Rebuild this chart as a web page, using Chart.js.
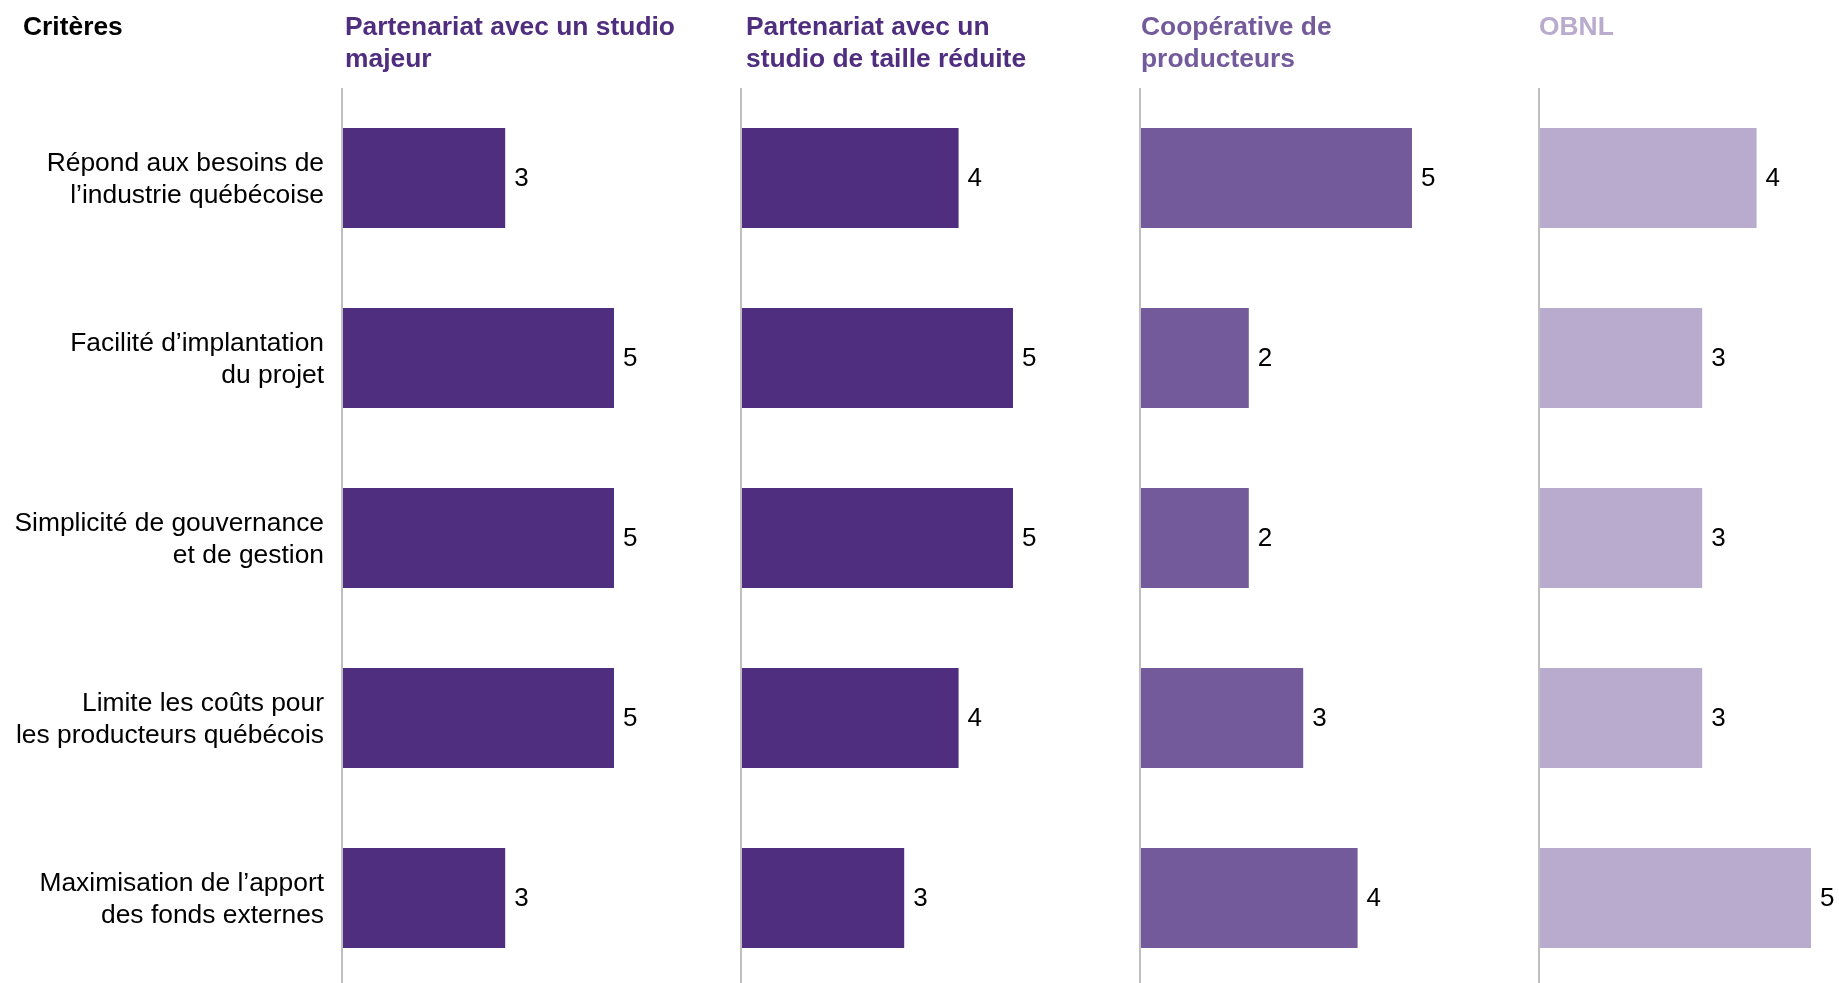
<!DOCTYPE html>
<html>
<head>
<meta charset="utf-8">
<script src="https://cdn.jsdelivr.net/npm/chart.js@4/dist/chart.umd.min.js"></script>
<style>
  html, body { margin: 0; padding: 0; background: #fff; overflow: hidden; }
  #wrap { position: absolute; left: 0; top: 0; width: 1839px; height: 988px; }
</style>
</head>
<body>
<div id="wrap"><canvas id="c" width="1839" height="988"></canvas></div>
<script>
// Critères évalués (axe des catégories)
const criteres = [
  ["Répond aux besoins de", "l’industrie québécoise"],
  ["Facilité d’implantation", "du projet"],
  ["Simplicité de gouvernance", "et de gestion"],
  ["Limite les coûts pour", "les producteurs québécois"],
  ["Maximisation de l’apport", "des fonds externes"]
];
const enTeteCriteres = "Critères";

// Options comparées (titres des panneaux)
const optionsTitres = [
  ["Partenariat avec un studio", "majeur"],
  ["Partenariat avec un", "studio de taille réduite"],
  ["Coopérative de", "producteurs"],
  ["OBNL"]
];

// Notes sur 5 pour chaque option
const studioMajeur = [3, 5, 5, 5, 3];
const studioReduit = [4, 5, 5, 4, 3];
const cooperative  = [5, 2, 2, 3, 4];
const obnl         = [4, 3, 3, 3, 5];
const series = [studioMajeur, studioReduit, cooperative, obnl];

const couleurs = ["#4F2D7F", "#4F2D7F", "#735A9B", "#B9ABCD"];
// Étendue de chaque panneau (en points de note)
const etendues = [7.335, 7.335, 7.335, 5.515];
// Retrait des titres par rapport à l'axe de chaque panneau
const retraitsTitres = [3, 5, 1, 0];

const police = '"Liberation Sans", Arial, Helvetica, sans-serif';

function axePanneau(max) {
  return {
    type: 'linear',
    position: 'bottom',
    min: 0,
    max: max,
    stack: 'panneaux',
    stackWeight: max,
    grid: { drawTicks: false, color: '#BFBFBF', lineWidth: 2 },
    border: { display: false },
    ticks: { display: false },
    afterBuildTicks: (s) => { s.ticks = [{ value: 0 }]; }
  };
}

const scales = {
  y: {
    type: 'category',
    position: 'left',
    grid: { display: false, drawTicks: false },
    border: { display: false },
    ticks: {
      color: '#000',
      padding: 18,
      labelOffset: 2,
      font: { family: police, size: 26.4, lineHeight: '32px' }
    },
    afterFit: (s) => {
      s.width = 342;
      s.paddingTop = 0;
      s.paddingBottom = 0;
    }
  }
};
etendues.forEach((m, i) => { scales['x' + i] = axePanneau(m); });

// Valeurs au bout des barres et titres des colonnes
const etiquettes = {
  id: 'etiquettes',
  afterDatasetsDraw(chart) {
    const ctx = chart.ctx;
    ctx.save();
    ctx.font = '26px ' + police;
    ctx.fillStyle = '#000';
    ctx.textAlign = 'left';
    ctx.textBaseline = 'middle';
    chart.data.datasets.forEach((ds, i) => {
      chart.getDatasetMeta(i).data.forEach((bar, j) => {
        ctx.fillText(String(ds.data[j]), bar.x + 9, bar.y + 1);
      });
    });

    ctx.font = 'bold 26.4px ' + police;
    ctx.textBaseline = 'alphabetic';
    ctx.fillStyle = '#000';
    ctx.fillText(enTeteCriteres, 23, 35);
    optionsTitres.forEach((lignes, i) => {
      const x = chart.scales['x' + i].getPixelForValue(0) + retraitsTitres[i];
      ctx.fillStyle = couleurs[i];
      lignes.forEach((l, k) => ctx.fillText(l, x, 35 + k * 32));
    });
    ctx.restore();
  }
};

new Chart(document.getElementById('c'), {
  type: 'bar',
  data: {
    labels: criteres,
    datasets: series.map((d, i) => ({
      data: d,
      xAxisID: 'x' + i,
      yAxisID: 'y',
      backgroundColor: couleurs[i],
      grouped: false,
      categoryPercentage: 1,
      barPercentage: 0.556
    }))
  },
  options: {
    indexAxis: 'y',
    responsive: false,
    animation: false,
    devicePixelRatio: 1,
    layout: { padding: { top: 88, left: 0, right: 0, bottom: 0 } },
    plugins: { legend: { display: false }, tooltip: { enabled: false } },
    scales: scales
  },
  plugins: [etiquettes]
});
</script>
</body>
</html>
